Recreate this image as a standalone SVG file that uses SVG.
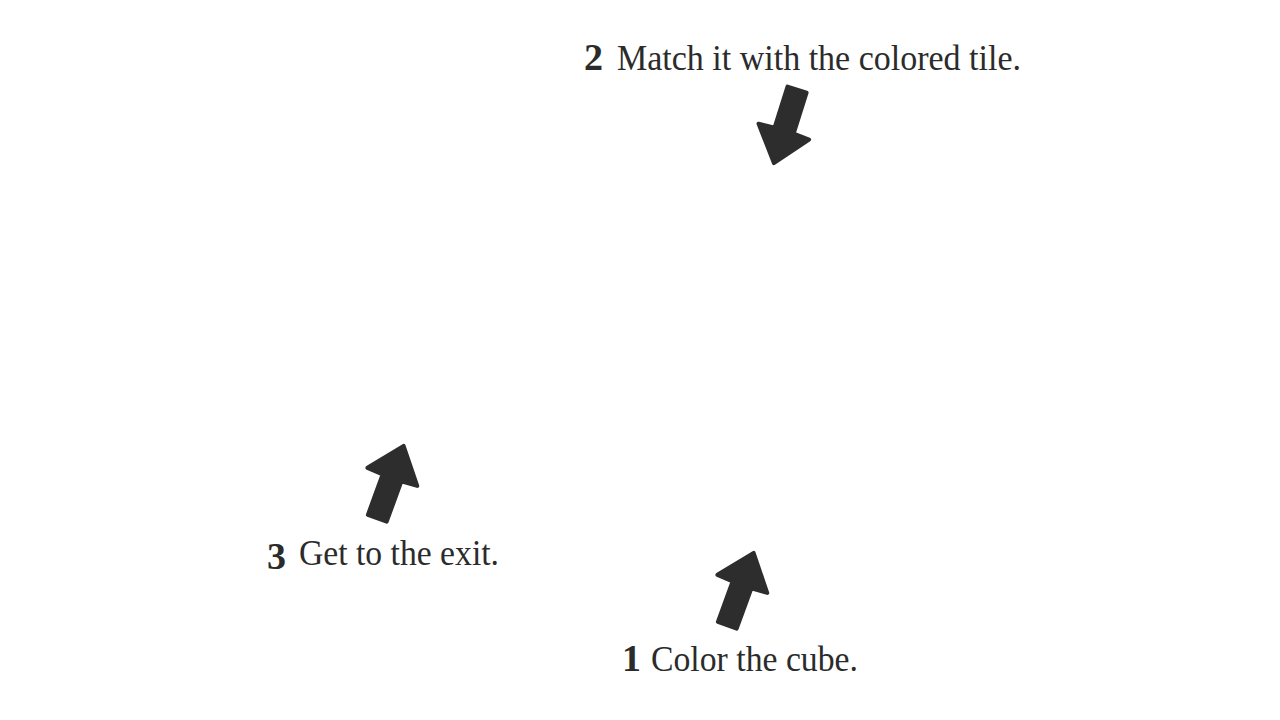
<svg xmlns="http://www.w3.org/2000/svg" width="1280" height="720" viewBox="0 0 1280 720">
  <style>
    .lbl { font-family: "Liberation Serif", "DejaVu Serif", serif; font-size: 36px; fill: #2b2b2b; }
    .num { font-family: "Liberation Serif", "DejaVu Serif", serif; font-weight: bold; font-size: 38px; fill: #2b2b2b; }
    .arrow { fill: #2d2d2d; stroke: #2d2d2d; stroke-width: 4; stroke-linejoin: round; }
  </style>
  <defs>
    <path id="arr" d="M0,2 L26.5,35 L10,36 L10,79 L-10,79 L-10,36 L-26.5,35 Z"/>
  </defs>
  <rect width="1280" height="720" fill="#ffffff"/>
  <g id="connectors">
    <use href="#arr" class="arrow" transform="translate(773.3,165) rotate(197.5)"/>
    <use href="#arr" class="arrow" transform="translate(404.3,444) rotate(20)"/>
    <use href="#arr" class="arrow" transform="translate(754.3,551) rotate(20)"/>
  </g>
  <g id="step2">
    <text class="num" x="584" y="70">2</text>
    <text class="lbl" x="617" y="70" textLength="404" lengthAdjust="spacingAndGlyphs">Match it with the colored tile.</text>
  </g>
  <g id="step3">
    <text class="num" x="267" y="569" font-size="40">3</text>
    <text class="lbl" x="299" y="565" textLength="200" lengthAdjust="spacingAndGlyphs">Get to the exit.</text>
  </g>
  <g id="step1">
    <text class="num" x="622" y="671">1</text>
    <text class="lbl" x="651" y="671" textLength="207" lengthAdjust="spacingAndGlyphs">Color the cube.</text>
  </g>
</svg>
